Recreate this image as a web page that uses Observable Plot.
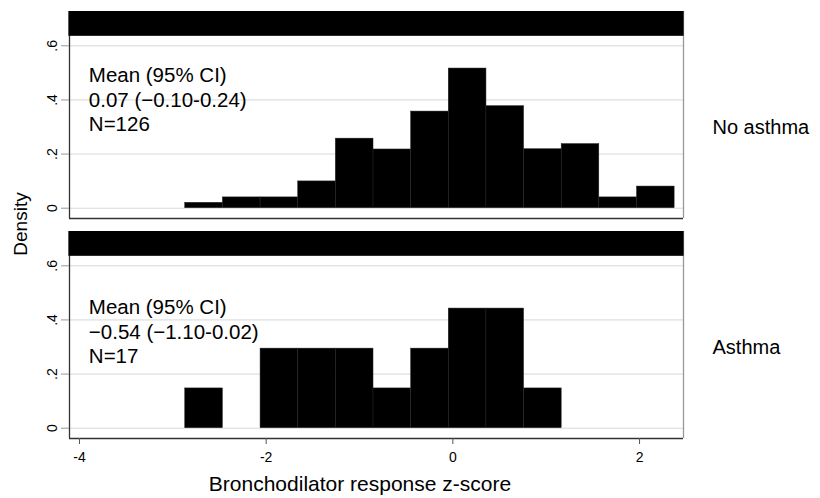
<!DOCTYPE html>
<html><head><meta charset="utf-8">
<script src="https://cdn.jsdelivr.net/npm/d3@7"></script>
<script src="https://cdn.jsdelivr.net/npm/@observablehq/plot@0.6"></script>
<style>
body{margin:0;background:#fff}
#chart{width:820px;height:498px}
</style>
</head><body><div id="chart"></div>
<script>
// ---- data ----
const groups = ["No asthma", "Asthma"];
const groupN = [126, 17];
const meanCI = ["0.07 (\u22120.10-0.24)", "\u22120.54 (\u22121.10-0.02)"];
const binEdges = [-2.867, -2.464, -2.06, -1.657, -1.254, -0.85, -0.447, -0.044, 0.36, 0.763, 1.166, 1.569, 1.973, 2.376];
const noAsthmaDensity = [0.020, 0.040, 0.040, 0.099, 0.257, 0.217, 0.357, 0.516, 0.377, 0.218, 0.237, 0.040, 0.080];
const asthmaDensity   = [0.147, 0,     0.294, 0.294, 0.294, 0.147, 0.294, 0.442, 0.442, 0.147, 0,     0,     0];
const xTicks = [-4, -2, 0, 2];
const xTickLabels = ["-4", "-2", "0", "2"];
const yTicks = [0, 0.2, 0.4, 0.6];
const yTickLabels = ["0", ".2", ".4", ".6"];
const xTitle = "Bronchodilator response z-score";
const yTitle = "Density";

// ---- build table ----
const densities = [noAsthmaDensity, asthmaDensity];
const bars = groups.flatMap((g, gi) =>
  densities[gi].map((d, i) => ({group: g, x1: binEdges[i], x2: binEdges[i + 1], density: d}))
).filter(d => d.density > 0);
const notes = groups.map((g, i) => ({group: g, text: `Mean (95% CI)\n${meanCI[i]}\nN=${groupN[i]}`}));

const xDom = [-4.107, 2.471];
const yDom = [-0.038, 0.7267];
const stripBottom = 0.635;
const noteY = {"No asthma": 0.531, "Asthma": 0.486};

const FONT = "'Liberation Sans', Arial, Helvetica, sans-serif";

const chart = Plot.plot({
  width: 820,
  height: 498,
  marginTop: 10,
  marginBottom: 59,
  marginLeft: 69,
  marginRight: 137,
  style: {fontFamily: FONT, fontSize: "14px", color: "#000", background: "#fff"},
  x: {domain: xDom},
  y: {domain: yDom},
  fy: {domain: groups, padding: 0.0588, axis: null},
  marks: [
    Plot.gridY(yTicks, {stroke: "#d8d8d8", strokeOpacity: 1, strokeWidth: 1}),
    Plot.rectY(bars, {x1: "x1", x2: "x2", y: "density", fy: "group", fill: "#000", stroke: "#262626", strokeWidth: 0.5}),
    Plot.ruleY([yDom[0]], {stroke: "#333", strokeWidth: 1.3}),
    Plot.ruleX([xDom[0]], {stroke: "#333", strokeWidth: 1.3}),
    Plot.ruleX([xDom[1]], {stroke: "#999", strokeWidth: 1.3}),
    Plot.rect([0], {x1: xDom[0], x2: xDom[1], y1: stripBottom, y2: yDom[1], fill: "#000", insetLeft: -0.6, insetRight: -0.6}),
    Plot.text(notes, {fy: "group", x: -3.9, y: d => noteY[d.group], text: "text", textAnchor: "start", lineAnchor: "top", lineHeight: 1.2, fontSize: 20.5}),
    Plot.text(groups, {fy: d => d, text: d => d, frameAnchor: "right", y: (yDom[0] + stripBottom) / 2, dx: 29, textAnchor: "start", fontSize: 20}),
    Plot.axisX(xTicks, {tickFormat: d => xTickLabels[xTicks.indexOf(d)], tickSize: 6, tickPadding: 8, fontSize: 14, stroke: "#555", label: null}),
    Plot.axisY(yTicks, {tickFormat: d => yTickLabels[yTicks.indexOf(d)], tickSize: 8, tickRotate: -90, tickPadding: 4.5, fontSize: 14, stroke: "#999", label: null})
  ]
});

const svg = d3.select(chart);
svg.append("text")
  .attr("transform", "translate(27,224) rotate(-90)")
  .attr("text-anchor", "middle")
  .attr("font-family", FONT).attr("font-size", 19).attr("fill", "#000")
  .text(yTitle);
svg.append("text")
  .attr("x", 360).attr("y", 491)
  .attr("text-anchor", "middle")
  .attr("font-family", FONT).attr("font-size", 21).attr("fill", "#000")
  .text(xTitle);

document.getElementById("chart").appendChild(chart);
</script>
</body></html>
